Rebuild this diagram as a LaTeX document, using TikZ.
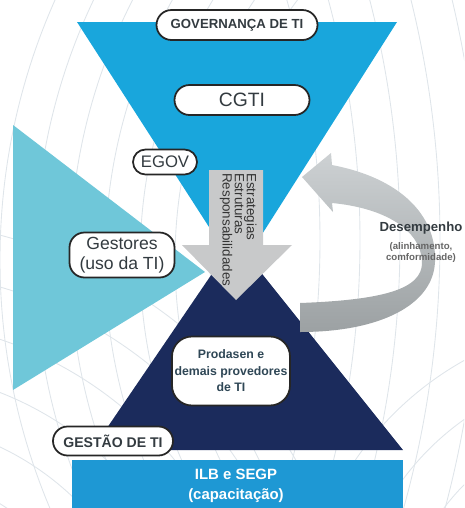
\documentclass[tikz,border=0pt]{standalone}
\usepackage{fontspec}
\setmainfont{Liberation Sans}
\usetikzlibrary{positioning}
\definecolor{govblue}{HTML}{19A6DC}
\definecolor{userteal}{HTML}{6FC7D9}
\definecolor{mgmtnavy}{HTML}{1B2B5C}
\definecolor{trainblue}{HTML}{1E98D4}
\definecolor{arrowgray}{HTML}{C8C9CA}
\definecolor{looplight}{HTML}{CDD1D3}
\definecolor{loopdark}{HTML}{9CA1A3}
\definecolor{labelgray}{HTML}{333B40}
\definecolor{prodtext}{HTML}{2F4756}
\definecolor{gridgray}{HTML}{DFE5EA}

\begin{document}
\begin{tikzpicture}
      [x=0.02cm, y=-0.02cm,
      pill/.style={draw=black!85, line width=1pt, fill=white, rounded corners=0.3cm, align=center, text=labelgray, inner sep=0pt},
      gridline/.style={draw=gridgray, line width=0.5pt},
      ]
    \useasboundingbox (0,0) rectangle (464,508);

    % faint background grid
    \begin{scope}
      \clip (0,0) rectangle (464,508);
      \foreach \r in {430,465,...,640}
        \draw[gridline] (640,260) circle[radius=\r];
      \foreach \r in {180,230,...,480}
        \draw[gridline] (-120,700) circle[radius=\r];
      \foreach \r in {880,920,...,1080}
        \draw[gridline] (-560,240) circle[radius=\r];
      \foreach \r in {120,170,...,320}
        \draw[gridline] (620,640) circle[radius=\r];
    \end{scope}

    % governance, users and management areas
    \fill[govblue] (77,22) -- (397,22) -- (238,272) -- cycle;
    \fill[userteal] (13,125) -- (205,272) -- (13,390) -- cycle;
    \fill[mgmtnavy] (235,240) -- (403,450) -- (92,450) -- cycle;
    \fill[trainblue] (72,460) rectangle (403,508);

    % downward flow
    \fill[arrowgray] (209,170) -- (263,170) -- (263,245) -- (292,245) -- (236,300) -- (182,245) -- (209,245) -- cycle;
    \node[rotate=-90, anchor=north west, align=left, inner sep=0pt, text=black!80,
          font=\fontsize{7.6}{6.9}\selectfont] (flow) at (257,173) {Estrategias\\Estruturas\\Responsabilidades};

    % feedback loop
    \shade[top color=looplight, bottom color=loopdark]
      (332,165) .. controls (400,178) and (437,215) .. (435,262)
      .. controls (433,305) and (380,332) .. (300,332) -- (300,303)
      .. controls (380,300) and (423,290) .. (422,262)
      .. controls (421,230) and (385,208) .. (332,203)
      -- (333,212) -- (302,177) -- (331,153) -- cycle;
    \node[font=\bfseries\fontsize{7.5}{9}\selectfont, text=labelgray] (perf) at (421,228) {Desempenho};
    \node[below=0pt of perf, align=center, inner sep=1pt, text=black!60,
          font=\bfseries\fontsize{5.5}{6.5}\selectfont] (perfsub) {(alinhamento,\\comformidade)};

    % labels
    \node[pill, minimum width=161*0.02cm, minimum height=0.6cm,
          font=\bfseries\fontsize{7.5}{9}\selectfont] (gov) at (237,25) {GOVERNANÇA DE TI};
    \node[pill, minimum width=135*0.02cm, minimum height=0.6cm,
          font=\fontsize{11}{13}\selectfont] (cgti) at (242,100) {CGTI};
    \node[pill, minimum width=64*0.02cm, minimum height=0.5cm, rounded corners=0.25cm,
          font=\fontsize{9.5}{11}\selectfont] (egov) at (165,162) {EGOV};
    \node[pill, minimum width=105*0.02cm, minimum height=0.9cm,
          font=\fontsize{10}{11.3}\selectfont] (gestores) at (122,255) {Gestores\\(uso da TI)};
    \node[pill, minimum width=118*0.02cm, minimum height=1.38cm, rounded corners=0.4cm, text=prodtext,
          font=\bfseries\fontsize{7}{9.4}\selectfont] (prodasen) at (231,371) {Prodasen e\\demais provedores\\de TI};
    \node[pill, minimum width=120*0.02cm, minimum height=0.58cm, rounded corners=0.29cm,
          font=\bfseries\fontsize{8}{9}\selectfont] (gestao) at (113,441) {GESTÃO DE TI};
    \node[align=center, text=white, font=\bfseries\fontsize{8.5}{11.3}\selectfont] (ilb) at (236,486) {ILB e SEGP\\(capacitação)};
\end{tikzpicture}
\end{document}
